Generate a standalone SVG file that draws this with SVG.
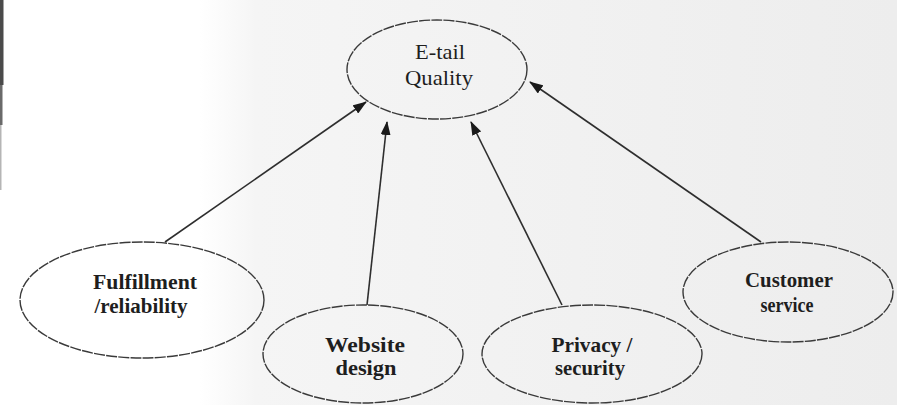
<svg xmlns="http://www.w3.org/2000/svg" width="897" height="405" viewBox="0 0 897 405">
  <style>
    .node ellipse { fill: none; stroke: #3a3a3a; stroke-width: 1.4; stroke-dasharray: 11 1.2; }
    .node text { font-family: "Liberation Serif", "Times New Roman", serif; font-size: 21px; fill: #1e1e1e; text-anchor: middle; }
    .bold text { font-weight: bold; }
    .edge { stroke: #2e2e2e; stroke-width: 1.6; fill: none; marker-end: url(#head); }
  </style>
  <defs>
    <marker id="head" markerUnits="userSpaceOnUse" markerWidth="14" markerHeight="10" refX="13" refY="5" orient="auto">
      <path d="M0,0 L14,5 L0,10 Z" fill="#1a1a1a"/>
    </marker>
    <linearGradient id="paper" x1="0" y1="0" x2="1" y2="0">
      <stop offset="0" stop-color="#ffffff"/>
      <stop offset="0.08" stop-color="#f5f5f5"/>
      <stop offset="1" stop-color="#ededed"/>
    </linearGradient>
  </defs>

  <!-- page background -->
  <rect x="0" y="0" width="897" height="405" fill="#ffffff"/>
  <rect x="200" y="0" width="697" height="405" fill="url(#paper)"/>
  <rect x="0" y="0" width="3.5" height="85" fill="#4a4a4a"/>
  <rect x="0" y="85" width="2.5" height="40" fill="#6a6a6a"/>
  <rect x="0" y="125" width="1.5" height="65" fill="#b5b5b5"/>

  <!-- connectors -->
  <g id="connectors">
    <line class="edge" x1="165" y1="242" x2="366" y2="102"/>
    <line class="edge" x1="367" y1="305" x2="387" y2="122"/>
    <line class="edge" x1="562" y1="305" x2="471" y2="122"/>
    <line class="edge" x1="761" y1="242" x2="530" y2="82"/>
  </g>

  <g id="etail-quality" class="node">
    <ellipse cx="437" cy="69.5" rx="90" ry="49.5"/>
    <text x="440" y="59" textLength="50" lengthAdjust="spacingAndGlyphs">E-tail</text>
    <text x="439" y="85" textLength="68" lengthAdjust="spacingAndGlyphs">Quality</text>
  </g>

  <g id="fulfillment" class="node bold">
    <ellipse cx="142" cy="300" rx="122" ry="58"/>
    <text x="145" y="289" textLength="104" lengthAdjust="spacingAndGlyphs">Fulfillment</text>
    <text x="141" y="313" textLength="93" lengthAdjust="spacingAndGlyphs">/reliability</text>
  </g>

  <g id="website-design" class="node bold">
    <ellipse cx="363" cy="354" rx="100" ry="49"/>
    <text x="365" y="352" textLength="80" lengthAdjust="spacingAndGlyphs">Website</text>
    <text x="366" y="375" textLength="61" lengthAdjust="spacingAndGlyphs">design</text>
  </g>

  <g id="privacy-security" class="node bold">
    <ellipse cx="592" cy="354" rx="110" ry="49"/>
    <text x="592" y="352" textLength="81" lengthAdjust="spacingAndGlyphs">Privacy /</text>
    <text x="590" y="375" textLength="70" lengthAdjust="spacingAndGlyphs">security</text>
  </g>

  <g id="customer-service" class="node bold">
    <ellipse cx="788" cy="292" rx="105" ry="50"/>
    <text x="789" y="287" textLength="88" lengthAdjust="spacingAndGlyphs">Customer</text>
    <text x="787" y="312" textLength="53" lengthAdjust="spacingAndGlyphs">service</text>
  </g>
</svg>
